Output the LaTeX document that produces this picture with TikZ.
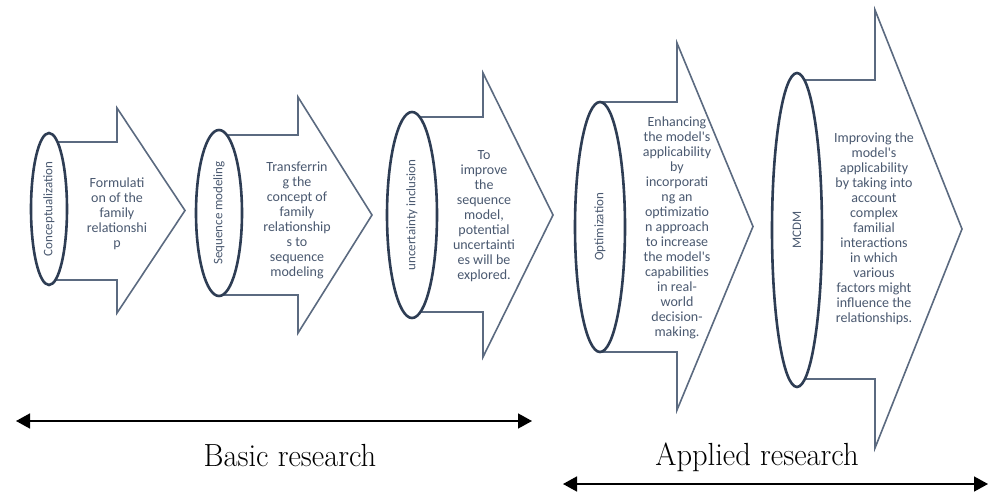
\documentclass[tikz,border=0pt]{standalone}
\usepackage{fontspec}
\newfontfamily\calib{Carlito}
\usetikzlibrary{shapes.geometric,arrows.meta}
\definecolor{edge}{HTML}{5B6A80}
\definecolor{ell}{HTML}{2E3D54}
\definecolor{txt}{HTML}{4A5970}
\begin{document}
\begin{tikzpicture}[x=1pt,y=-1pt,
  arrowshape/.style={draw=edge, line width=1.6pt, fill=white, line join=miter},
  capell/.style={ellipse, draw=ell, line width=2.6pt, fill=white, inner sep=0pt, rotate=90, text=txt, font=\calib\fontsize{13}{14}\selectfont},
  desc/.style={align=center, text=txt, font=\calib\fontsize{14}{15}\selectfont, inner sep=0pt},
  span/.style={line width=1.6pt, {Triangle[length=14pt,width=15pt]}-{Triangle[length=14pt,width=15pt]}},
  phase/.style={font=\fontsize{30.5}{33}\selectfont, yscale=1.05, anchor=base}]
\useasboundingbox (0,0) rectangle (990,494);

% arrow 1
\draw[arrowshape] (49,142) -- (117,142) -- (117,108) -- (185,210.5) -- (117,313) -- (117,280) -- (49,280) -- cycle;
\node[capell, minimum width=152pt, minimum height=36pt] (e1) at (49,209) {Conceptualization};
\node[desc] (t1) at (117,214) {Formulati\\on of the\\family\\relationshi\\p};

% arrow 2
\draw[arrowshape] (219,135) -- (298,135) -- (298,97) -- (372,215) -- (298,333) -- (298,295) -- (219,295) -- cycle;
\node[capell, minimum width=166pt, minimum height=46pt] (e2) at (219,213) {Sequence modeling};
\node[desc] (t2) at (297,220) {Transferrin\\g the\\concept of\\family\\relationship\\s to\\sequence\\modeling};

% arrow 3
\draw[arrowshape] (412,117) -- (483,117) -- (483,73) -- (553,215) -- (483,357) -- (483,312) -- (412,312) -- cycle;
\node[capell, minimum width=206pt, minimum height=50pt] (e3) at (412,215) {uncertainty inclusion};
\node[desc] (t3) at (484,216) {To\\improve\\the\\sequence\\model,\\potential\\uncertainti\\es will be\\explored.};

% arrow 4
\draw[arrowshape] (600,102) -- (677,102) -- (677,43) -- (753,226.5) -- (677,410) -- (677,352) -- (600,352) -- cycle;
\node[capell, minimum width=250pt, minimum height=50pt] (e4) at (600,227) {Optimization};
\node[desc] (t4) at (677,228) {Enhancing\\the model's\\applicability\\by\\incorporati\\ng an\\optimizatio\\n approach\\to increase\\the model's\\capabilities\\in real-\\world\\decision-\\making.};

% arrow 5
\draw[arrowshape] (797,80) -- (875,80) -- (875,10) -- (962,229) -- (875,448) -- (875,379) -- (797,379) -- cycle;
\node[capell, minimum width=314pt, minimum height=50pt] (e5) at (797,230) {MCDM};
\node[desc] (t5) at (874,229) {Improving the\\model's\\applicability\\by taking into\\account\\complex\\familial\\interactions\\in which\\various\\factors might\\influence the\\relationships.};

% research spans
\coordinate (b1) at (16,421);
\coordinate (b2) at (532,421);
\coordinate (a1) at (563,484);
\coordinate (a2) at (988,484);
\draw[span] (b1) -- (b2);
\draw[span] (a1) -- (a2);
\node[phase] (basic) at (290,466) {Basic research};
\node[phase] (applied) at (757,465) {Applied research};
\end{tikzpicture}
\end{document}
